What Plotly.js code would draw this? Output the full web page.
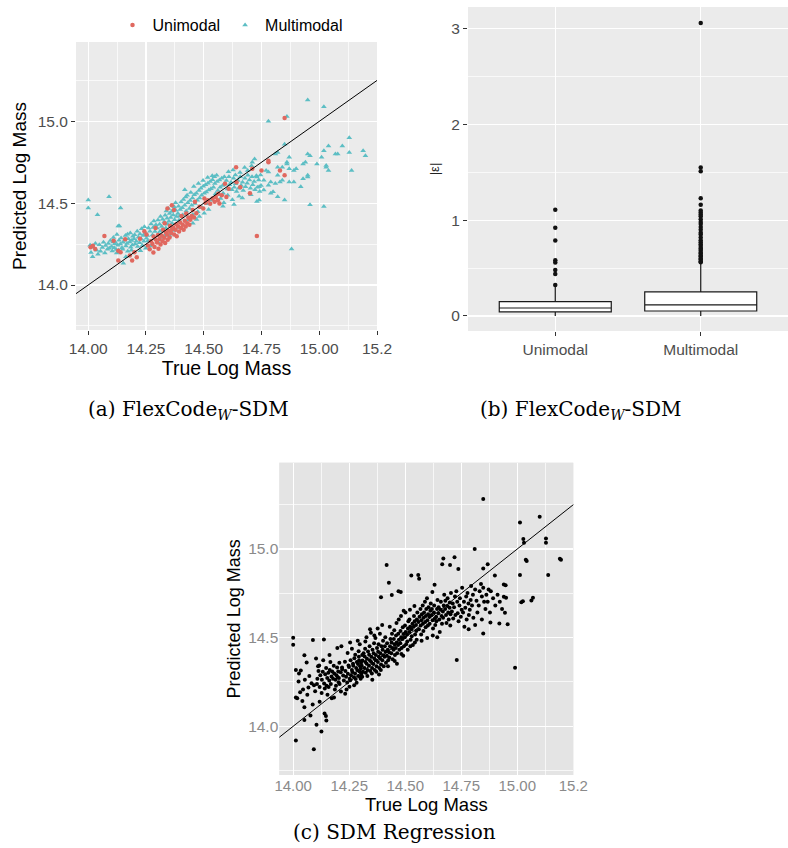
<!DOCTYPE html>
<html><head><meta charset="utf-8">
<script src="https://cdn.plot.ly/plotly-3.0.1.min.js"></script>
<style>html,body{margin:0;padding:0;background:#fff}#chart{width:788px;height:848px}</style>
</head><body><div id="chart"></div>
<script>
// ---------- Panel (a): FlexCode_W-SDM predictions, [true, predicted] ----------
const multimodalPoints = [
[14.00,14.52],[14.00,14.47],[14.04,14.43],[14.09,14.54],[14.14,14.47],[14.13,14.36],[14.135,14.36],[14.17,14.31],
[14.008,14.243],[14.012,14.198],[14.019,14.172],[14.023,14.231],[14.031,14.254],[14.036,14.213],[14.042,14.188],[14.048,14.246],[14.053,14.207],[14.061,14.229],[14.066,14.262],[14.072,14.196],[14.075,14.241],[14.083,14.218],[14.087,14.253],[14.091,14.224],[14.096,14.272],[14.101,14.236],[14.104,14.208],[14.107,14.263],[14.112,14.228],[14.115,14.252],[14.109,14.291],[14.121,14.217],[14.118,14.259],[14.124,14.308],[14.123,14.196],
[14.128,14.243],[14.133,14.274],[14.131,14.212],[14.139,14.251],[14.142,14.287],[14.146,14.228],[14.151,14.262],[14.149,14.219],[14.152,14.133],[14.158,14.273],[14.163,14.239],[14.161,14.302],[14.168,14.254],[14.171,14.207],[14.174,14.282],[14.179,14.263],[14.182,14.318],[14.184,14.231],[14.188,14.272],[14.193,14.298],[14.191,14.244],[14.198,14.283],[14.203,14.251],[14.201,14.307],[14.208,14.268],[14.212,14.329],[14.214,14.236],[14.217,14.292],[14.222,14.258],[14.224,14.312],[14.229,14.281],[14.231,14.343],[14.234,14.242],[14.238,14.302],[14.241,14.268],[14.243,14.356],[14.247,14.318],[14.252,14.286],[14.249,14.224],[14.163,14.172],[14.187,14.213],[14.226,14.209],
[14.256,14.302],[14.261,14.348],[14.258,14.271],[14.267,14.329],[14.272,14.373],[14.269,14.238],[14.278,14.306],[14.281,14.352],[14.284,14.391],[14.289,14.327],[14.293,14.368],[14.287,14.282],[14.298,14.349],[14.302,14.397],[14.304,14.312],[14.309,14.371],[14.313,14.418],[14.311,14.328],[14.318,14.357],[14.322,14.402],[14.324,14.291],[14.329,14.387],[14.333,14.426],[14.336,14.348],[14.341,14.408],[14.338,14.452],[14.344,14.372],[14.349,14.389],[14.352,14.437],[14.347,14.468],[14.357,14.412],[14.361,14.449],[14.363,14.378],[14.368,14.428],[14.372,14.478],[14.374,14.398],[14.379,14.457],[14.382,14.418],[14.378,14.503],[14.388,14.437],[14.391,14.482],[14.393,14.396],[14.398,14.462],[14.402,14.507],[14.396,14.421],[14.352,14.302],[14.371,14.333],[14.392,14.352],[14.331,14.302],[14.303,14.262],[14.418,14.582],
[14.407,14.472],[14.412,14.523],[14.409,14.428],[14.418,14.487],[14.422,14.538],[14.424,14.452],[14.431,14.503],[14.428,14.548],[14.434,14.398],[14.441,14.517],[14.438,14.468],[14.444,14.566],[14.451,14.532],[14.448,14.487],[14.453,14.431],[14.459,14.551],[14.462,14.498],[14.457,14.602],[14.468,14.561],[14.472,14.518],[14.474,14.447],[14.479,14.578],[14.482,14.532],[14.477,14.621],[14.488,14.592],[14.491,14.548],[14.493,14.472],[14.498,14.603],[14.502,14.561],[14.497,14.638],[14.508,14.612],[14.511,14.568],[14.513,14.497],[14.518,14.622],[14.522,14.581],[14.517,14.657],[14.528,14.632],[14.531,14.588],[14.533,14.518],[14.538,14.643],[14.542,14.598],[14.537,14.668],[14.548,14.621],[14.551,14.558],[14.546,14.662],[14.453,14.378],[14.481,14.418],[14.502,14.438],[14.521,14.462],[14.469,14.401],
[14.558,14.632],[14.561,14.578],[14.556,14.671],[14.568,14.642],[14.571,14.598],[14.573,14.528],[14.578,14.652],[14.582,14.608],[14.584,14.561],[14.589,14.662],[14.592,14.618],[14.587,14.503],[14.598,14.638],[14.602,14.587],[14.604,14.548],[14.609,14.661],[14.612,14.612],[14.607,14.692],[14.618,14.628],[14.622,14.582],[14.624,14.521],[14.629,14.652],[14.632,14.598],[14.627,14.703],[14.638,14.618],[14.642,14.572],[14.637,14.672],[14.648,14.638],[14.651,14.592],[14.653,14.542],[14.658,14.662],[14.662,14.608],[14.657,14.688],[14.668,14.628],[14.671,14.578],[14.678,14.652],[14.681,14.601],[14.677,14.718],[14.688,14.622],[14.691,14.671],[14.698,14.642],[14.702,14.592],[14.704,14.552],[14.709,14.662],[14.712,14.612],[14.707,14.728],[14.718,14.632],[14.722,14.582],[14.728,14.668],[14.732,14.598],[14.738,14.642],[14.742,14.572],[14.748,14.608],[14.746,14.672],[14.667,14.532],[14.631,14.492],[14.583,14.482],
[14.95,15.13],[15.02,15.09],[14.86,15.03],[14.78,15.00],[14.85,14.86],[14.82,14.81],[14.81,14.80],[14.87,14.78],[14.95,14.80],[14.96,14.79],[15.04,14.85],[15.10,14.85],[15.13,14.90],[15.19,14.82],[15.20,14.79],[15.13,14.81],[15.07,14.80],[15.08,14.80],[15.02,14.82],[15.01,14.78],[14.99,14.74],[15.03,14.73],[15.03,14.72],[15.04,14.70],[15.14,14.70],[14.94,14.75],[14.93,14.74],[14.90,14.71],[14.89,14.70],[14.87,14.71],[14.86,14.74],[14.86,14.75],[14.95,14.67],[14.95,14.66],[14.93,14.65],[14.89,14.63],[14.92,14.60],[14.87,14.63],[14.84,14.64],[14.83,14.63],[14.82,14.72],[14.84,14.72],[14.96,14.49],[15.02,14.48],[14.88,14.22],[14.85,14.52],[14.82,14.54],[14.80,14.57],[14.79,14.56],[14.79,14.63],[14.81,14.62],[14.82,14.67],[14.78,14.69],[14.77,14.70],[14.73,14.66],[14.74,14.60],[14.76,14.58],[14.73,14.51],[14.74,14.52],[14.71,14.75],[14.72,14.77],[14.69,14.70],[14.76,14.64],[14.78,14.61]
];
const unimodalPoints = [
[14.85,15.02],[14.78,14.76],[14.78,14.75],[14.75,14.70],[14.83,14.70],[14.85,14.67],[14.64,14.72],[14.71,14.71],[14.73,14.30],[14.70,14.56],[14.07,14.30],[14.01,14.23],[14.13,14.15],[14.19,14.15],[14.21,14.17],[14.20,14.20],[14.18,14.18],[14.14,14.20],[14.02,14.24],[14.03,14.22],[14.11,14.27],[14.16,14.28],[14.13,14.21],
[14.258,14.242],[14.266,14.218],[14.271,14.268],[14.278,14.251],[14.283,14.297],[14.287,14.232],[14.292,14.278],[14.298,14.259],[14.302,14.306],[14.304,14.221],[14.309,14.281],[14.313,14.248],[14.318,14.302],[14.322,14.268],[14.324,14.338],[14.329,14.288],[14.333,14.257],[14.336,14.322],[14.341,14.308],[14.344,14.277],[14.349,14.332],[14.352,14.291],[14.354,14.362],[14.359,14.318],[14.363,14.342],[14.368,14.352],[14.372,14.308],[14.378,14.338],[14.381,14.372],[14.383,14.298],[14.389,14.358],[14.393,14.327],[14.398,14.382],[14.402,14.348],[14.404,14.421],[14.409,14.368],[14.413,14.338],[14.418,14.392],[14.422,14.358],[14.424,14.437],[14.429,14.378],[14.433,14.412],[14.438,14.368],[14.442,14.398],[14.448,14.422],[14.452,14.458],[14.458,14.412],[14.468,14.438],[14.482,14.478],[14.498,14.468],[14.508,14.502],[14.518,14.518],[14.528,14.497],[14.538,14.528],[14.547,14.508],[14.552,14.538],[14.561,14.518],[14.568,14.498],[14.563,14.558],[14.578,14.548],[14.598,14.538],[14.608,14.588],[14.592,14.618],[14.362,14.487],[14.371,14.458],[14.343,14.468],[14.462,14.508],[14.503,14.528],[14.291,14.348],[14.252,14.308],[14.224,14.282],[14.243,14.328],[14.282,14.198],[14.331,14.378],[14.642,14.628],[14.658,14.598]
];
const identityLine = [13.9, 15.3];
const massTickVals = [14, 14.25, 14.5, 14.75, 15, 15.25];
const massTickText = ['14.00', '14.25', '14.50', '14.75', '15.00', '15.2'];
const massMinorVals = [14.125, 14.375, 14.625, 14.875, 15.125];
const predTickVals = [14, 14.5, 15];
const predTickText = ['14.0', '14.5', '15.0'];
const predMinorVals = [13.75, 14.25, 14.75, 15.25];

// ---------- Panel (b): |epsilon| box plot ----------
const boxCategories = ['Unimodal', 'Multimodal'];
const boxQ1 = [0.042, 0.052];
const boxMedian = [0.083, 0.115];
const boxQ3 = [0.150, 0.251];
const boxLower = [0.0, 0.0];
const boxUpper = [0.31, 0.55];
const unimodalOutliers = [1.11, 0.92, 0.787, 0.582, 0.557, 0.481, 0.439, 0.324];
const multimodalOutliers = [3.06, 1.55, 1.51, 1.23, 1.16, 1.10, 1.08, 1.06, 1.04, 1.01, 0.98, 0.96, 0.93, 0.90, 0.87, 0.85, 0.82, 0.79, 0.77, 0.75, 0.73, 0.71, 0.70, 0.68, 0.66, 0.65, 0.63, 0.62, 0.60, 0.59, 0.57, 0.56];

// ---------- Panel (c): SDM regression, [true, predicted] ----------
const sdmPoints = [
[14.00,14.50],[14.00,14.46],[14.012,14.318],[14.034,14.314],[14.018,14.158],[14.012,14.162],[14.012,13.92],[14.092,13.87],[14.088,14.487],[14.05,14.40],[14.06,14.36],[14.052,14.262],[14.044,14.208],[14.05,14.107],[14.05,14.036],[14.077,14.06],[14.104,14.008],[14.031,14.192],[14.024,14.252],[14.068,14.218],[14.082,14.243],[14.063,14.178],[14.093,14.231],[14.072,14.283],[14.041,14.142],[14.098,14.197],[14.087,14.123],[14.026,14.298],
[14.137,14.49],[14.126,13.97],[14.14,14.072],[14.146,14.058],[14.148,14.032],[14.108,14.268],[14.113,14.312],[14.106,14.238],[14.118,14.221],[14.121,14.288],[14.116,14.343],[14.128,14.262],[14.132,14.308],[14.127,14.187],[14.134,14.372],[14.138,14.241],[14.143,14.293],[14.141,14.213],[14.147,14.329],[14.152,14.272],[14.149,14.228],[14.157,14.302],[14.153,14.178],[14.161,14.258],[14.163,14.318],[14.158,14.221],[14.166,14.362],[14.171,14.281],[14.168,14.238],[14.174,14.309],[14.172,14.158],[14.178,14.268],[14.183,14.298],[14.181,14.342],[14.186,14.207],[14.189,14.262],[14.193,14.288],[14.191,14.228],[14.196,14.332],[14.198,14.278],[14.203,14.248],[14.201,14.309],[14.206,14.358],[14.197,14.441],[14.102,14.382],[14.118,14.138],[14.111,14.338],[14.162,14.402],[14.182,14.162],
[14.204,14.272],[14.212,14.305],[14.207,14.238],[14.218,14.331],[14.223,14.287],[14.226,14.258],[14.219,14.322],[14.231,14.364],[14.215,14.452],[14.236,14.279],[14.241,14.247],[14.233,14.312],[14.247,14.343],[14.238,14.208],[14.244,14.296],[14.252,14.268],[14.249,14.335],[14.256,14.372],[14.243,14.414],[14.258,14.288],[14.262,14.318],[14.255,14.259],[14.267,14.353],[14.251,14.223],[14.264,14.306],[14.271,14.277],[14.268,14.341],[14.273,14.384],[14.262,14.437],[14.276,14.297],[14.281,14.329],[14.279,14.266],[14.284,14.362],[14.277,14.403],[14.287,14.316],[14.291,14.284],[14.289,14.351],[14.283,14.246],[14.293,14.392],[14.296,14.309],[14.299,14.338],[14.294,14.371],[14.298,14.279],[14.292,14.423],[14.302,14.326],[14.305,14.297],[14.303,14.359],[14.308,14.402],[14.301,14.268],[14.297,14.462],[14.213,14.196],[14.232,14.183],[14.254,14.472],[14.272,14.232],[14.288,14.483],
[14.306,14.342],[14.311,14.308],[14.309,14.371],[14.314,14.412],[14.308,14.279],[14.318,14.328],[14.322,14.362],[14.319,14.393],[14.324,14.302],[14.321,14.438],[14.328,14.352],[14.332,14.318],[14.329,14.381],[14.334,14.422],[14.331,14.283],[14.327,14.502],[14.338,14.341],[14.342,14.372],[14.339,14.404],[14.344,14.312],[14.341,14.452],[14.348,14.362],[14.352,14.328],[14.349,14.392],[14.354,14.432],[14.351,14.298],[14.347,14.528],[14.358,14.351],[14.362,14.382],[14.359,14.412],[14.364,14.318],[14.361,14.468],[14.368,14.372],[14.372,14.338],[14.369,14.402],[14.374,14.442],[14.371,14.308],[14.367,14.498],[14.378,14.362],[14.382,14.392],[14.379,14.421],[14.384,14.328],[14.381,14.462],[14.377,14.552],[14.388,14.382],[14.392,14.348],[14.389,14.412],[14.394,14.452],[14.391,14.318],[14.387,14.522],[14.398,14.372],[14.402,14.401],[14.399,14.432],[14.404,14.338],[14.401,14.482],[14.397,14.571],[14.343,14.548],[14.362,14.512],[14.322,14.478],[14.392,14.728],[14.353,14.262],[14.383,14.292],
[14.408,14.392],[14.412,14.421],[14.409,14.452],[14.414,14.358],[14.411,14.502],[14.418,14.398],[14.422,14.432],[14.419,14.468],[14.424,14.372],[14.417,14.91],[14.427,14.81],[14.428,14.418],[14.432,14.452],[14.429,14.388],[14.434,14.492],[14.431,14.562],[14.438,14.412],[14.442,14.442],[14.439,14.472],[14.444,14.378],[14.441,14.522],[14.44,14.74],[14.448,14.432],[14.452,14.462],[14.449,14.492],[14.454,14.402],[14.451,14.542],[14.458,14.442],[14.462,14.472],[14.459,14.512],[14.464,14.412],[14.461,14.582],[14.47,14.762],[14.468,14.458],[14.472,14.488],[14.469,14.522],[14.474,14.432],[14.471,14.602],[14.478,14.468],[14.482,14.502],[14.479,14.538],[14.484,14.442],[14.48,14.758],[14.481,14.622],[14.488,14.492],[14.492,14.521],[14.489,14.558],[14.494,14.452],[14.491,14.398],[14.498,14.502],[14.502,14.532],[14.499,14.568],[14.504,14.462],[14.501,14.642],[14.423,14.338],[14.453,14.368],[14.483,14.408],[14.463,14.352],[14.493,14.652],
[14.508,14.518],[14.512,14.552],[14.509,14.478],[14.514,14.592],[14.511,14.432],[14.518,14.532],[14.522,14.562],[14.519,14.602],[14.524,14.488],[14.521,14.658],[14.528,14.548],[14.532,14.578],[14.529,14.508],[14.527,14.85],[14.534,14.458],[14.538,14.562],[14.542,14.592],[14.539,14.622],[14.544,14.518],[14.541,14.678],[14.548,14.572],[14.552,14.602],[14.549,14.538],[14.554,14.642],[14.551,14.488],[14.558,14.853],[14.562,14.832],[14.559,14.588],[14.564,14.618],[14.561,14.548],[14.568,14.662],[14.572,14.598],[14.569,14.568],[14.574,14.632],[14.571,14.518],[14.578,14.682],[14.582,14.612],[14.579,14.578],[14.584,14.642],[14.581,14.538],[14.588,14.702],[14.592,14.622],[14.589,14.588],[14.594,14.662],[14.591,14.558],[14.598,14.498],[14.602,14.632],[14.599,14.598],[14.604,14.672],[14.601,14.568],[14.597,14.722],[14.523,14.452],[14.543,14.472],[14.573,14.482],
[14.608,14.618],[14.612,14.652],[14.609,14.578],[14.614,14.692],[14.618,14.628],[14.622,14.598],[14.619,14.662],[14.624,14.552],[14.621,14.758],[14.628,14.642],[14.632,14.608],[14.629,14.682],[14.634,14.572],[14.631,14.798],[14.638,14.618],[14.642,14.662],[14.639,14.592],[14.644,14.712],[14.648,14.638],[14.652,14.602],[14.649,14.672],[14.654,14.532],[14.658,14.658],[14.662,14.622],[14.659,14.702],[14.664,14.578],[14.67,14.947],[14.665,14.914],[14.668,14.648],[14.672,14.682],[14.669,14.612],[14.674,14.742],[14.678,14.662],[14.682,14.628],[14.679,14.708],[14.684,14.582],[14.688,14.678],[14.692,14.642],[14.689,14.722],[14.694,14.602],[14.70,14.91],[14.698,14.668],[14.702,14.632],[14.699,14.698],[14.704,14.752],[14.701,14.568],[14.623,14.512],[14.643,14.502],
[14.72,14.953],[14.737,14.887],[14.73,14.374],[14.712,14.692],[14.708,14.648],[14.714,14.608],[14.722,14.732],[14.718,14.672],[14.724,14.628],[14.732,14.702],[14.728,14.762],[14.734,14.638],[14.742,14.682],[14.738,14.592],[14.744,14.722],[14.752,14.658],[14.748,14.618],[14.754,14.782],[14.762,14.702],[14.758,14.642],[14.772,14.732],[14.768,14.668],[14.774,14.602],[14.782,14.692],[14.778,14.752],[14.784,14.628],[14.792,14.712],[14.788,14.658],[14.802,14.742],[14.798,14.682],[14.804,14.612],[14.794,14.792],[14.764,14.562],[14.783,14.548],
[14.81,15.00],[14.848,15.282],[14.868,14.914],[14.848,14.89],[14.90,14.85],[14.94,14.80],[14.948,14.795],[14.94,14.73],[14.95,14.725],[14.945,14.64],[14.957,14.575],[14.92,14.58],[14.88,14.585],[14.848,14.524],[14.812,14.772],[14.818,14.708],[14.822,14.642],[14.832,14.762],[14.828,14.682],[14.842,14.732],[14.838,14.802],[14.852,14.702],[14.848,14.782],[14.862,14.742],[14.858,14.662],[14.872,14.772],[14.868,14.702],[14.882,14.762],[14.878,14.642],[14.892,14.722],[14.902,14.682],[14.912,14.742],[14.922,14.702],[14.932,14.662],[14.842,14.602],[14.812,14.572],
[14.99,14.33],[15.012,15.15],[15.10,15.182],[15.027,15.056],[15.03,15.035],[15.012,14.853],[15.018,14.70],[15.025,14.705],[15.038,14.94],[15.042,14.932],[15.07,14.725],[15.063,14.71],[15.128,15.06],[15.128,15.035],[15.138,14.853],[15.19,14.945],[15.195,14.94]
];

// ---------- layout helpers (pixel -> paper) ----------
const W = 788, H = 848;
const px = v => v / W, py = v => 1 - v / H;
const col = (arr, i) => arr.map(p => p[i]);
const TEAL = '#5cbec4', RED = '#e0685f';
const SANS = 'Liberation Sans, Arial, sans-serif';
const SERIF = 'DejaVu Serif, serif';

const traces = [
  {type: 'scatter', mode: 'markers', name: 'Multimodal', legendrank: 2,
   x: col(multimodalPoints, 0), y: col(multimodalPoints, 1), xaxis: 'x', yaxis: 'y',
   marker: {symbol: 'triangle-up', size: 5, color: TEAL}},
  {type: 'scatter', mode: 'markers', name: 'Unimodal', legendrank: 1,
   x: col(unimodalPoints, 0), y: col(unimodalPoints, 1), xaxis: 'x', yaxis: 'y',
   marker: {symbol: 'circle', size: 4.5, color: RED}},
  {type: 'scatter', mode: 'lines', showlegend: false, x: identityLine, y: identityLine,
   xaxis: 'x', yaxis: 'y', line: {color: '#000', width: 1}},
  {type: 'box', showlegend: false, x: boxCategories, q1: boxQ1, median: boxMedian, q3: boxQ3,
   lowerfence: boxLower, upperfence: boxUpper, xaxis: 'x2', yaxis: 'y2', width: 0.77,
   fillcolor: '#ffffff', line: {color: '#1a1a1a', width: 1.2}, boxpoints: false, whiskerwidth: 0},
  {type: 'scatter', mode: 'markers', showlegend: false,
   x: unimodalOutliers.map(() => boxCategories[0]).concat(multimodalOutliers.map(() => boxCategories[1])),
   y: unimodalOutliers.concat(multimodalOutliers), xaxis: 'x2', yaxis: 'y2',
   marker: {size: 4.5, color: '#111'}},
  {type: 'scatter', mode: 'markers', showlegend: false,
   x: col(sdmPoints, 0), y: col(sdmPoints, 1), xaxis: 'x3', yaxis: 'y3',
   marker: {size: 4, color: '#000'}},
  {type: 'scatter', mode: 'lines', showlegend: false, x: identityLine, y: identityLine,
   xaxis: 'x3', yaxis: 'y3', line: {color: '#000', width: 1}}
];

const gridCommon = {showgrid: true, gridcolor: '#ffffff', gridwidth: 1.2, zeroline: false,
  showline: false, automargin: false};
const tickA = {ticks: 'outside', ticklen: 4, tickwidth: 1, tickcolor: '#333',
  tickfont: {family: SANS, size: 15.5, color: '#4d4d4d'}};

const layout = {
  width: W, height: H, margin: {l: 0, r: 0, t: 0, b: 0, pad: 0},
  paper_bgcolor: '#ffffff', plot_bgcolor: '#ebebeb',
  font: {family: SANS, color: '#000'},
  showlegend: true,
  legend: {orientation: 'h', x: px(230), xanchor: 'center', y: py(25), yanchor: 'middle',
    font: {family: SANS, size: 16, color: '#000'}, bgcolor: 'rgba(0,0,0,0)', itemwidth: 30},
  xaxis: Object.assign({}, gridCommon, tickA, {domain: [px(76), px(377)], range: [13.947, 15.25],
    tickmode: 'array', tickvals: massTickVals, ticktext: massTickText, anchor: 'y',
    minor: {tickvals: massMinorVals, showgrid: true, gridcolor: '#ffffff', gridwidth: 0.7, ticks: ''},
    title: {text: 'True Log Mass', font: {family: SANS, size: 19.5, color: '#000'}, standoff: 2}}),
  yaxis: Object.assign({}, gridCommon, tickA, {domain: [py(330), py(42)], range: [13.725, 15.485],
    tickmode: 'array', tickvals: predTickVals, ticktext: predTickText, anchor: 'x',
    minor: {tickvals: predMinorVals, showgrid: true, gridcolor: '#ffffff', gridwidth: 0.7, ticks: ''},
    title: {text: 'Predicted Log Mass', font: {family: SANS, size: 19, color: '#000'}, standoff: 6}}),
  xaxis2: Object.assign({}, gridCommon, tickA, {domain: [px(468), px(788)], type: 'category',
    categoryarray: boxCategories, categoryorder: 'array', range: [-0.6, 1.6], anchor: 'y2'}),
  yaxis2: Object.assign({}, gridCommon, tickA, {domain: [py(331), py(7)], range: [-0.157, 3.226],
    tickmode: 'array', tickvals: [0, 1, 2, 3], anchor: 'x2',
    minor: {tickvals: [0.5, 1.5, 2.5], showgrid: true, gridcolor: '#ffffff', gridwidth: 0.7, ticks: ''},
    title: {text: '|ε|', font: {family: SANS, size: 13, color: '#222'}, standoff: 8}}),
  xaxis3: Object.assign({}, gridCommon, {domain: [px(279.3), px(573.3)], range: [13.938, 15.25],
    tickmode: 'array', tickvals: massTickVals, ticktext: massTickText, anchor: 'y3', ticks: '',
    tickfont: {family: SANS, size: 15, color: '#8a8a8a'},
    minor: {tickvals: massMinorVals, showgrid: true, gridcolor: '#ffffff', gridwidth: 0.7, ticks: ''},
    title: {text: 'True Log Mass', font: {family: SANS, size: 18.5, color: '#000'}, standoff: 0}}),
  yaxis3: Object.assign({}, gridCommon, {domain: [py(775), py(462.7)], range: [13.725, 15.487],
    tickmode: 'array', tickvals: predTickVals, ticktext: predTickText, anchor: 'x3', ticks: '',
    tickfont: {family: SANS, size: 15.5, color: '#8a8a8a'},
    minor: {tickvals: predMinorVals, showgrid: true, gridcolor: '#ffffff', gridwidth: 0.7, ticks: ''},
    title: {text: 'Predicted Log Mass', font: {family: SANS, size: 18, color: '#000'}, standoff: 2}}),
  shapes: [
    {type: 'rect', xref: 'x3 domain', yref: 'y3 domain', x0: 0, x1: 1, y0: 0, y1: 1,
     fillcolor: '#e4e4e4', line: {width: 0}, layer: 'below'}
  ],
  annotations: [
    {text: '(a) FlexCode<sub><i>W</i></sub>-SDM', xref: 'paper', yref: 'paper', x: px(188), y: py(410),
     xanchor: 'center', yanchor: 'middle', showarrow: false, font: {family: SERIF, size: 20, color: '#000'}},
    {text: '(b) FlexCode<sub><i>W</i></sub>-SDM', xref: 'paper', yref: 'paper', x: px(581), y: py(410),
     xanchor: 'center', yanchor: 'middle', showarrow: false, font: {family: SERIF, size: 20, color: '#000'}},
    {text: '(c) SDM Regression', xref: 'paper', yref: 'paper', x: px(394), y: py(832),
     xanchor: 'center', yanchor: 'middle', showarrow: false, font: {family: SERIF, size: 20, color: '#000'}}
  ]
};

Plotly.newPlot('chart', traces, layout, {displayModeBar: false, staticPlot: true});
</script>
</body></html>
